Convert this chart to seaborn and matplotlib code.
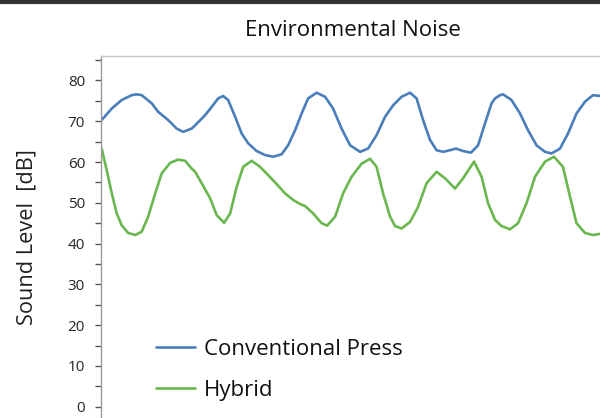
import matplotlib
matplotlib.use("Agg")
import matplotlib.pyplot as plt
import seaborn as sns
import pandas as pd
from matplotlib.lines import Line2D
from matplotlib.ticker import MultipleLocator

# ---- data ----
t_conv = [0, 2, 4, 6, 7, 8, 10, 11.3, 13.3, 15, 16.3, 18, 18.7, 20.7, 22, 23.3, 24.3, 25.3,
          26.7, 28, 29.3, 31, 32.7, 34.3, 36, 37.3, 38.7, 40, 41.3, 43, 44.7, 46.3, 48, 49.7,
          51.7, 53.3, 55, 56.7, 58.3, 60, 61.7, 63, 64.3, 65.7, 67, 68.3, 69.7, 70.9, 72.3,
          73.9, 75.3, 76.7, 78, 78.7, 79.7, 80.3, 82, 83.7, 85.3, 87, 88.7, 90, 91.7, 93.3,
          95, 96.7, 98.3, 99.7]
conv = [70.3, 73.1, 75.2, 76.4, 76.6, 76.4, 74.4, 72.3, 70.3, 68.2, 67.4, 68.2, 69.0, 71.5,
        73.5, 75.6, 76.2, 75.2, 71.1, 67.0, 64.6, 62.7, 61.7, 61.3, 61.9, 64.1, 67.8, 71.9,
        75.6, 77.0, 76.0, 73.1, 68.2, 64.1, 62.5, 63.3, 66.6, 71.1, 73.9, 76.0, 77.0, 75.6,
        70.3, 65.4, 62.9, 62.5, 62.9, 63.3, 62.7, 62.3, 64.1, 69.5, 74.4, 75.6, 76.4, 76.6,
        75.2, 71.9, 67.8, 64.1, 62.5, 62.1, 63.3, 67.0, 71.9, 74.8, 76.4, 76.2]

t_hyb = [0, 1, 2, 3, 4, 5.3, 6.7, 8, 9.3, 10.7, 12, 13.7, 15.3, 16.7, 18, 18.7, 20, 21.7, 23,
         24.5, 25.7, 27, 28.3, 30, 31.7, 33.3, 35, 36.7, 38.3, 39.7, 40.7, 42.3, 44, 45.1,
         46.7, 48.3, 50, 52, 53.7, 55, 56.3, 57.7, 58.7, 60, 61.7, 63.3, 65, 67, 68.7, 70.7,
         72.3, 74.5, 76, 77.3, 78.7, 80, 81.7, 83.3, 85, 86.7, 88.7, 90.5, 92.3, 93.7, 95,
         96.7, 98.3, 99.7]
hybrid = [63.3, 58.0, 52.4, 47.4, 44.5, 42.6, 42.1, 42.9, 46.6, 52.3, 57.2, 59.8, 60.6, 60.3,
          58.4, 57.6, 54.8, 51.1, 47.0, 45.1, 47.4, 53.9, 58.8, 60.3, 58.8, 56.8, 54.6, 52.3,
          50.7, 49.7, 49.2, 47.4, 45.0, 44.4, 46.6, 52.3, 56.4, 59.6, 60.8, 58.8, 52.3, 46.6,
          44.3, 43.7, 45.3, 49.0, 54.8, 57.6, 56.0, 53.5, 56.0, 60.1, 56.4, 49.9, 45.8, 44.3,
          43.5, 45.0, 49.9, 56.4, 60.1, 61.3, 58.8, 51.5, 45.0, 42.6, 42.1, 42.4]

series_names = ["Conventional Press", "Hybrid"]
title = "Environmental Noise"
ylabel = "Sound Level  [dB]"
y_ticks = [0, 10, 20, 30, 40, 50, 60, 70, 80]

df = pd.concat([
    pd.DataFrame({"t": t_conv, "level": conv, "series": series_names[0]}),
    pd.DataFrame({"t": t_hyb, "level": hybrid, "series": series_names[1]}),
], ignore_index=True)

sns.set_style("white")
plt.rcParams["font.family"] = ["Open Sans", "DejaVu Sans"]

fig = plt.figure(figsize=(6.0, 4.18), dpi=100)
ax = fig.add_axes([101 / 600, 0.0, 1 - 101 / 600, 1 - 56 / 418])

palette = {series_names[0]: "#4a7ebb", series_names[1]: "#6ab750"}
sns.lineplot(data=df, x="t", y="level", hue="series", palette=palette,
             linewidth=1.9, ax=ax, sort=True, estimator=None, legend=True,
             solid_joinstyle="round", solid_capstyle="round")

ax.set_xlim(-0.14, 99.7)
ax.set_ylim(-2.77, 86.0)
ax.set_yticks(y_ticks)
ax.set_yticklabels([str(v) for v in y_ticks])
ax.yaxis.set_minor_locator(MultipleLocator(5))
ax.set_xticks([])
ax.set_xlabel("")
ax.set_ylabel(ylabel, fontsize=15.7, color="#222222", labelpad=22)

ax.tick_params(axis="y", which="both", direction="out", length=4, width=1,
               color="#555555", left=True)
ax.tick_params(axis="y", which="major", labelsize=11, labelcolor="#262626", pad=7.5)

for s in ["right", "bottom"]:
    ax.spines[s].set_visible(False)
ax.spines["left"].set_color("#9a9a9a")
ax.spines["left"].set_linewidth(1.0)
ax.spines["top"].set_color("#c8c8c8")
ax.spines["top"].set_linewidth(1.0)

fig.text(353 / 600, 1 - 31 / 418, title, ha="center", va="center",
         fontsize=16, color="#111111")

# top dark border
fig.add_artist(Line2D([0, 1], [1 - 2 / 418, 1 - 2 / 418], transform=fig.transFigure,
                      color="#333333", linewidth=3.0))

handles, labels = ax.get_legend_handles_labels()
for h in handles:
    h.set_linewidth(1.9)
ax.legend(handles, labels, loc="upper left", frameon=False,
          bbox_to_anchor=(156 / 600, 1 - 339 / 418), bbox_transform=fig.transFigure,
          borderaxespad=0, borderpad=0, fontsize=16, handlelength=1.75,
          handletextpad=0.4, labelspacing=0.88, labelcolor="#111111")

fig.savefig("out.png", dpi=100)
